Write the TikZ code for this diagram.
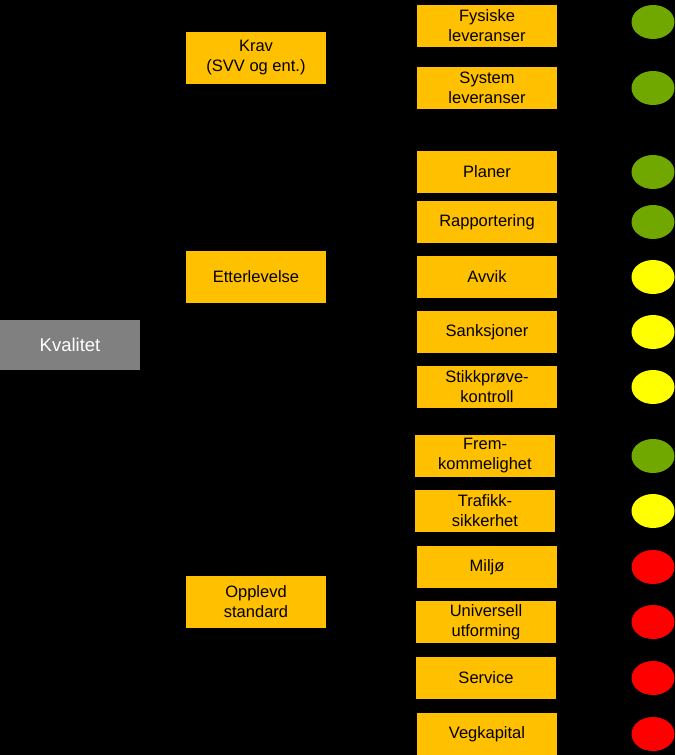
\documentclass[tikz,border=0pt]{standalone}
\usepackage{fontspec}
\setmainfont{Liberation Sans}
\usetikzlibrary{shapes.geometric}

\definecolor{boxgold}{RGB}{255,192,0}
\definecolor{topgrey}{RGB}{128,128,128}
\definecolor{okgreen}{RGB}{112,168,0}
\definecolor{warnyellow}{RGB}{255,255,0}
\definecolor{badred}{RGB}{255,0,0}

\begin{document}
\begin{tikzpicture}[x=1pt,y=-1pt,node distance=166pt]
  \tikzstyle{area}=[fill=boxgold,text=black,minimum width=140pt,minimum height=52pt,
                    inner sep=0pt,align=center,font=\fontsize{16.5}{20}\selectfont]
  \tikzstyle{item}=[area,minimum height=42pt]
  \tikzstyle{lamp}=[ellipse,minimum width=43pt,minimum height=34pt,inner sep=0pt]

  \fill[black] (0,0) rectangle (675,755);
  \useasboundingbox (0,0) rectangle (675,755);

  \node[fill=topgrey,text=white,minimum width=140pt,minimum height=50pt,inner sep=0pt,
        font=\fontsize{18.5}{21}\selectfont] (kval) at (70,345) {Kvalitet};

  \node[area] (krav)  at (256,58)  {Krav\\(SVV og ent.)};
  \node[area] (etter) at (256,277) {Etterlevelse};
  \node[area] (oppl)  at (256,602) {Opplevd\\standard};

  \node[item] (fys)   at (487,26)  {Fysiske\\leveranser};
  \node[item] (sys)   at (487,88)  {System\\leveranser};
  \node[item] (plan)  at (487,172) {Planer};
  \node[item] (rapp)  at (487,222) {Rapportering};
  \node[item] (avvik) at (487,277) {Avvik};
  \node[item] (sank)  at (487,332) {Sanksjoner};
  \node[item] (stikk) at (487,387) {Stikkprøve-\\kontroll};
  \node[item] (frem)  at (485,456) {Frem-\\kommelighet};
  \node[item] (traf)  at (485,511) {Trafikk-\\sikkerhet};
  \node[item] (milj)  at (487,567) {Miljø};
  \node[item] (univ)  at (486,622) {Universell\\utforming};
  \node[item] (serv)  at (486,678) {Service};
  \node[item] (veg)   at (487,734) {Vegkapital};

  \node[lamp,fill=okgreen]    (lfys)   at (653,22)   {};
  \node[lamp,fill=okgreen]    (lsys)   at (653,88)   {};
  \node[lamp,fill=okgreen]    (lplan)  [right of=plan]  {};
  \node[lamp,fill=okgreen]    (lrapp)  [right of=rapp]  {};
  \node[lamp,fill=warnyellow] (lavvik) [right of=avvik] {};
  \node[lamp,fill=warnyellow] (lsank)  [right of=sank]  {};
  \node[lamp,fill=warnyellow] (lstikk) [right of=stikk] {};
  \node[lamp,fill=okgreen]    (lfrem)  at (653,456)  {};
  \node[lamp,fill=warnyellow] (ltraf)  at (653,511)  {};
  \node[lamp,fill=badred]     (lmilj)  [right of=milj]  {};
  \node[lamp,fill=badred]     (luniv)  at (653,622)  {};
  \node[lamp,fill=badred]     (lserv)  at (653,678)  {};
  \node[lamp,fill=badred]     (lveg)   [right of=veg]   {};
\end{tikzpicture}
\end{document}
